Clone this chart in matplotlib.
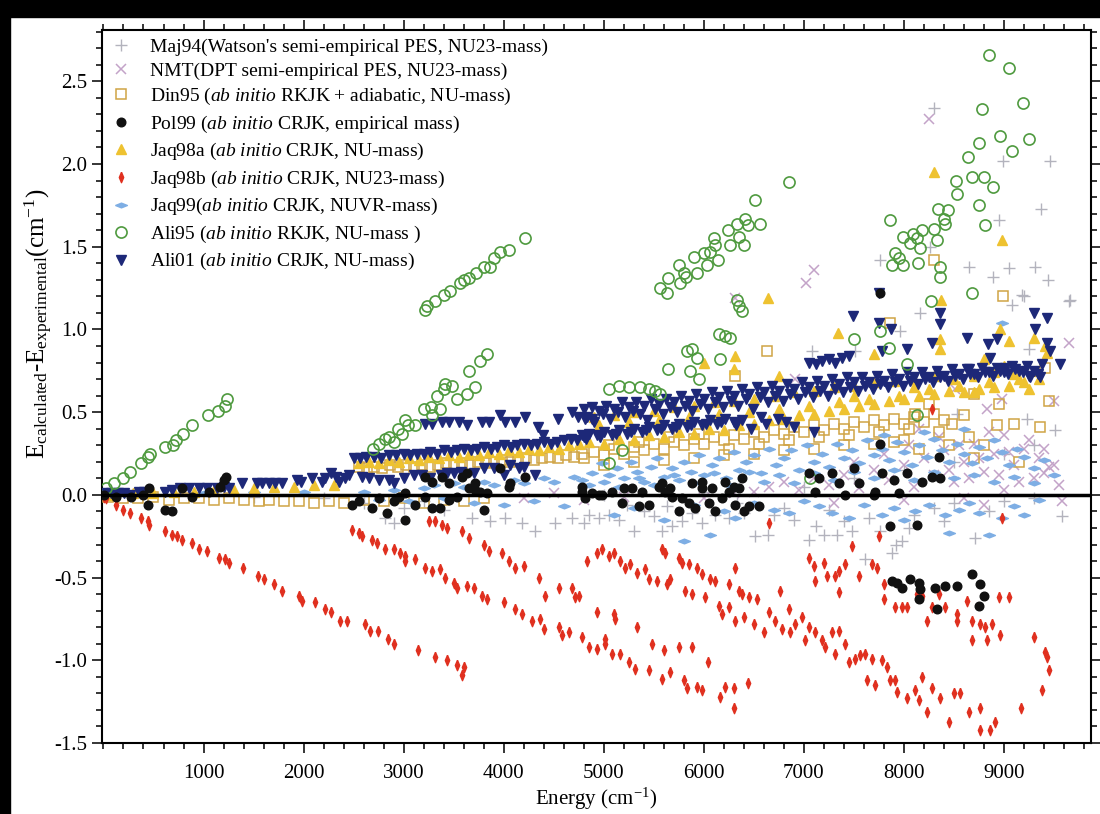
import numpy as np
import matplotlib
matplotlib.use("Agg")
import matplotlib.pyplot as plt
from matplotlib.ticker import MultipleLocator, FormatStrFormatter
from matplotlib.patches import Rectangle

plt.rcParams['font.family'] = ['Liberation Serif', 'DejaVu Serif']
plt.rcParams['mathtext.fontset'] = 'custom'
plt.rcParams['mathtext.rm'] = 'Liberation Serif'
plt.rcParams['mathtext.it'] = 'Liberation Serif:italic'

# ---- data: (energy cm-1, Ecalc - Eexp cm-1) ----
maj94 = np.array([
    (2600, -0.05), (2810, -0.14), (2900, -0.17), (3000, -0.08), (3200, -0.04), (3400, -0.09),
    (3680, -0.14), (3860, -0.16), (4010, -0.14), (4180, -0.17), (4310, -0.22), (4510, -0.17),
    (4680, -0.14), (4800, -0.17), (4850, -0.12), (4950, -0.14), (5050, -0.12), (5150, -0.15),
    (5300, -0.22), (5400, -0.10), (5500, -0.13), (5580, -0.22), (5680, -0.19), (5780, -0.16),
    (5880, -0.11), (5980, -0.17), (6110, -0.12), (6250, -0.14), (6400, -0.11), (6510, -0.25),
    (6640, -0.24), (6800, -0.08), (6900, -0.15), (7050, -0.27), (7120, -0.19), (7200, -0.24),
    (7330, -0.24), (7400, -0.16), (7480, -0.22), (7610, -0.39), (7650, -0.14), (7880, -0.35),
    (7920, -0.30), (7980, -0.28), (8050, -0.20), (8100, -0.12), (8300, -0.08), (8500, -0.05),
    (8710, -0.26), (9000, -0.04), (9300, -0.02), (9580, -0.13), (5000, 0.00), (6000, 0.02),
    (7000, 0.05), (7500, 0.10), (8000, 0.15), (8500, 0.20), (9000, 0.25), (9300, 0.30),
    (9230, 0.46), (8530, 0.49), (9510, 0.39), (9250, 0.88), (8300, 2.34), (8990, 2.02),
    (9460, 2.02), (9370, 1.73), (8950, 1.66), (8260, 1.50), (7760, 1.42), (8650, 1.38),
    (8890, 1.32), (9050, 1.37), (9310, 1.38), (9440, 1.30), (9200, 1.20), (9660, 1.18),
    (8160, 1.10), (7960, 0.99), (7080, 0.87), (7510, 0.87), (9080, 1.15), (9180, 1.21),
    (9650, 1.17), (1500, -0.01), (2200, -0.02), (5230, -0.06), (5630, -0.07), (6330, -0.05),
    (6700, -0.12), (7250, -0.09), (7760, -0.22), (8400, -0.16), (8850, -0.10),
])

nmt = np.array([
    (8250, 2.27), (7100, 1.36), (7020, 1.28), (6310, 1.19), (9650, 0.92), (9500, 0.57),
    (8510, 0.64), (8830, 0.52), (9580, -0.04), (8980, 0.58), (6910, 0.70), (9400, 0.13),
    (6500, 0.02), (6650, 0.05), (6800, 0.08), (6950, 0.03), (7100, 0.10), (7250, 0.06),
    (7400, 0.12), (7550, 0.04), (7700, 0.15), (7850, 0.09), (8000, 0.18), (8100, 0.05),
    (8200, 0.22), (8300, 0.12), (8400, 0.27), (8500, 0.08), (8600, 0.20), (8700, 0.31),
    (8800, 0.14), (8900, 0.25), (9000, 0.36), (9100, 0.18), (9200, 0.28), (9300, 0.10),
    (9350, 0.22), (9450, 0.17), (9550, 0.06), (4200, -0.02), (4500, 0.01), (4800, -0.03),
    (5200, -0.01), (5600, 0.02), (6000, -0.02), (6300, 0.01), (7300, -0.05), (8000, -0.03),
    (8800, -0.06), (8050, 0.30), (8150, 0.40), (8350, 0.35), (8450, 0.15), (8550, 0.30),
    (8650, 0.10), (8750, 0.22), (8850, 0.38), (8950, 0.12), (9050, 0.26), (9150, 0.08),
    (9250, 0.33), (9400, 0.28), (9500, 0.18), (8600, -0.02), (9000, 0.03), (7500, 0.20),
    (7800, 0.25),
])

din95 = np.array([
    (50, -0.01), (200, -0.02), (350, -0.02), (500, -0.01), (650, -0.03), (800, -0.02),
    (950, -0.02), (1100, -0.03), (1250, -0.02), (1400, -0.03), (1550, -0.04), (1650, -0.03),
    (1800, -0.04), (1950, -0.04), (2100, -0.05), (2250, -0.04), (2400, -0.05),
    (2550, 0.17), (2630, 0.16), (2700, 0.17), (2780, 0.16), (2860, 0.18), (2940, 0.17),
    (3020, 0.18), (3100, 0.17), (3180, 0.18), (3260, 0.17), (3340, 0.18), (3420, 0.19),
    (3500, 0.18), (3580, 0.19), (3660, 0.18), (3740, 0.20), (3820, 0.19), (3900, 0.20),
    (3980, 0.21), (4060, 0.20), (4140, 0.21), (4220, 0.22), (4300, 0.21), (4380, 0.22),
    (4460, 0.23), (4540, 0.22), (4620, 0.24), (4700, 0.23), (4780, 0.25),
    (2600, -0.03), (2800, -0.04), (3000, -0.02), (3200, -0.05), (3400, -0.03), (3600, -0.04),
    (3800, -0.02),
    (4800, 0.22), (4900, 0.26), (5000, 0.24), (5100, 0.28), (5200, 0.25), (5300, 0.29),
    (5400, 0.27), (5500, 0.31), (5600, 0.28), (5700, 0.32), (5800, 0.30), (5900, 0.34),
    (6000, 0.31), (6100, 0.35), (6200, 0.33), (6300, 0.36), (6400, 0.34), (6500, 0.38),
    (6600, 0.35), (6700, 0.39), (6800, 0.37), (6900, 0.41), (7000, 0.38), (7100, 0.42),
    (7200, 0.39), (7300, 0.43), (7400, 0.40), (7500, 0.44), (7600, 0.41), (7700, 0.45),
    (7800, 0.42), (7900, 0.46), (8000, 0.43), (8100, 0.47), (8200, 0.44), (8300, 0.49),
    (8400, 0.45), (5000, 0.18), (5300, 0.20), (5600, 0.21), (5900, 0.22), (6200, 0.24),
    (6500, 0.25), (6800, 0.27), (7100, 0.28), (7400, 0.30), (7700, 0.31), (8000, 0.33),
    (8300, 1.42), (8990, 1.20), (6630, 0.87), (6310, 0.72), (7860, 1.04), (9410, 0.77),
    (9450, 0.57), (9360, 0.41), (9150, 0.20), (8930, 0.42), (8950, 0.55), (8700, 0.61),
    (8480, 0.43), (8110, 0.49),
    (5050, 0.30), (5350, 0.32), (5650, 0.35), (5950, 0.37), (6250, 0.28), (6550, 0.31),
    (6850, 0.33), (7150, 0.35), (7450, 0.36), (7750, 0.38), (8050, 0.40), (8350, 0.38),
    (8650, 0.35), (8800, 0.30), (8600, 0.48), (8250, 0.55), (8450, 0.30), (8150, 0.28),
    (7900, 0.32), (8700, 0.22), (9100, 0.43),
])

pol99 = np.array([
    (10, 0.00), (130, -0.01), (280, -0.01), (400, 0.00), (460, 0.04), (450, -0.06),
    (610, -0.09), (680, -0.10), (880, -0.01), (780, 0.04), (1050, 0.02), (1160, 0.05),
    (1200, 0.09), (1220, 0.11),
    (2480, -0.06), (2550, -0.04), (2680, -0.08), (2750, -0.02), (2830, -0.11), (2900, -0.04),
    (2950, -0.01), (3010, 0.01), (3010, -0.15), (3110, -0.06), (3210, -0.01), (3280, -0.08),
    (3360, -0.08), (3450, -0.03), (3530, -0.01), (3650, 0.04), (3710, 0.03), (3800, -0.09),
    (3760, 0.02), (3830, 0.01), (4050, 0.05), (3210, 0.11), (3280, 0.08), (3380, 0.11),
    (3450, 0.07), (3580, 0.11), (3630, 0.13), (3710, 0.07), (3960, 0.16), (4060, 0.07),
    (4210, 0.11), (4810, -0.02),
    (4780, 0.02), (4880, 0.01), (4980, 0.00), (5080, 0.02), (5180, -0.05), (5280, 0.04),
    (5350, -0.07), (5450, -0.06), (5550, 0.05), (5610, 0.02), (5750, -0.10), (5850, -0.05),
    (5910, -0.08), (5980, 0.04), (6050, -0.05), (6110, -0.10), (6180, -0.02), (6250, 0.02),
    (6310, -0.06), (6400, -0.10), (6450, -0.07), (6550, -0.07), (6350, 0.04), (5780, -0.02),
    (5680, -0.01), (4780, 0.05), (4950, 0.00), (5200, 0.04), (5380, 0.02), (5580, 0.07),
    (5660, 0.04), (5880, 0.07), (5980, 0.08), (6080, 0.04), (6210, 0.08), (6300, 0.05),
    (6380, 0.10),
    (7050, 0.13), (7150, 0.10), (7280, 0.13), (7350, 0.07), (7500, 0.16), (7550, 0.07),
    (7760, 0.31), (7710, 0.02), (7780, 0.13), (7900, 0.09), (8030, 0.13), (8180, 0.08),
    (8280, 0.11), (8360, 0.10), (8350, 0.23), (7110, 0.02), (7410, 0.00), (7700, 0.00),
    (7950, 0.01), (7860, -0.19), (8130, -0.18), (7760, 1.22),
    (7880, -0.52), (7930, -0.53), (7980, -0.56), (8060, -0.51), (8150, -0.53), (8160, -0.57),
    (8150, -0.63), (8310, -0.56), (8410, -0.55), (8530, -0.55), (8680, -0.48), (8760, -0.54),
    (8800, -0.61), (8750, -0.67), (8330, -0.69),
])

jaq98a = np.array([
    (100, 0.00), (300, 0.01), (500, 0.01), (700, 0.02), (900, 0.02), (1100, 0.03),
    (1300, 0.03), (1500, 0.04), (1700, 0.05), (1900, 0.05), (2100, 0.06), (2300, 0.06),
    (2550, 0.19), (2650, 0.20), (2750, 0.19), (2850, 0.21), (2950, 0.20), (3050, 0.22),
    (3150, 0.21), (3250, 0.23), (3350, 0.22), (3450, 0.24), (3550, 0.23), (3650, 0.25),
    (3750, 0.24), (3850, 0.26), (3950, 0.25), (4050, 0.27), (4150, 0.26), (4250, 0.28),
    (4350, 0.27), (4450, 0.29), (4550, 0.28), (4650, 0.30), (4750, 0.31),
    (4850, 0.32), (5000, 0.31), (5150, 0.34), (5300, 0.33), (5450, 0.36), (5600, 0.35),
    (5750, 0.38), (5900, 0.37), (6050, 0.40), (6200, 0.39), (6350, 0.42), (6500, 0.43),
    (6650, 0.45), (6800, 0.46), (6950, 0.48), (7100, 0.49), (7250, 0.51), (7400, 0.52),
    (7550, 0.54), (7700, 0.55), (7850, 0.57), (8000, 0.58), (8150, 0.60), (8300, 0.61),
    (8450, 0.63), (8600, 0.62), (8750, 0.64), (8900, 0.65), (9050, 0.66), (9200, 0.68),
    (9350, 0.70),
    (4900, 0.47), (5100, 0.48), (5300, 0.50), (5500, 0.51), (5700, 0.53), (5900, 0.54),
    (6100, 0.56), (6300, 0.57), (6500, 0.58), (6700, 0.60), (6900, 0.62), (7100, 0.63),
    (7300, 0.65), (7500, 0.66), (7700, 0.68), (7900, 0.69), (8100, 0.70), (8300, 0.72),
    (8500, 0.70), (8700, 0.72), (8900, 0.74), (9100, 0.73), (9300, 0.75),
    (8300, 1.95), (8980, 1.54), (6640, 1.19), (7340, 0.98), (6310, 0.84), (6300, 0.76),
    (6750, 0.72), (8360, 0.94), (8360, 0.88), (8960, 1.00), (9050, 0.93), (9300, 0.95),
    (9410, 0.90), (9430, 0.86), (8370, 1.18), (6000, 0.80), (7700, 0.85), (8800, 0.82),
    (9000, 0.78),
    (4950, 0.42), (5250, 0.44), (5550, 0.45), (5850, 0.47), (6150, 0.49), (6450, 0.50),
    (6750, 0.52), (7050, 0.54), (7350, 0.56), (7650, 0.58), (7950, 0.60), (8250, 0.64),
    (8550, 0.66), (8850, 0.68), (9150, 0.70), (7500, 0.60), (8100, 0.65), (8700, 0.62),
    (9250, 0.64),
])

jaq98b = np.array([
    # lowest branch
    (30, -0.02), (130, -0.06), (200, -0.09), (270, -0.11), (380, -0.14), (450, -0.16),
    (460, -0.18), (610, -0.22), (680, -0.24), (730, -0.25), (780, -0.27), (880, -0.29),
    (950, -0.33), (1030, -0.34), (1150, -0.38), (1210, -0.39), (1250, -0.41), (1390, -0.44),
    (1540, -0.49), (1600, -0.51), (1700, -0.54), (1780, -0.58), (1950, -0.61), (1980, -0.64),
    (2110, -0.65), (2210, -0.69), (2270, -0.71), (2360, -0.76), (2430, -0.76), (2610, -0.78),
    (2660, -0.82), (2740, -0.82), (2840, -0.87), (2900, -0.90), (3140, -0.94), (3310, -0.98),
    (3430, -1.00), (3530, -1.03), (3600, -1.04), (3580, -1.09),
    # second branch
    (2480, -0.21), (2550, -0.23), (2580, -0.25), (2680, -0.27), (2730, -0.29), (2810, -0.33),
    (2900, -0.33), (2960, -0.35), (3010, -0.37), (3010, -0.40), (3110, -0.39), (3210, -0.44),
    (3280, -0.46), (3360, -0.45), (3410, -0.50), (3500, -0.53), (3530, -0.56), (3630, -0.55),
    (3700, -0.56), (3780, -0.61), (3830, -0.63), (4000, -0.65), (4110, -0.69), (4180, -0.72),
    (4280, -0.76), (4360, -0.75), (4400, -0.81), (4550, -0.80), (4580, -0.85), (4650, -0.83),
    (4780, -0.86), (4850, -0.92), (4930, -0.93), (5010, -0.90), (5080, -0.96), (5160, -0.96),
    (5250, -1.01), (5310, -1.05), (5450, -1.06), (5480, -0.90), (5580, -1.11), (5600, -0.94),
    (5660, -1.07), (5750, -0.92), (5800, -1.12), (5830, -1.17), (5880, -0.92), (5930, -1.16),
    (5980, -1.18), (6040, -1.01), (6160, -1.22), (6210, -1.16), (6300, -1.17), (6300, -1.29),
    (6440, -1.14),
    # third branch
    (3250, -0.16), (3310, -0.16), (3380, -0.18), (3430, -0.20), (3580, -0.22), (3650, -0.26),
    (3800, -0.30), (3850, -0.34), (3980, -0.35), (4050, -0.40), (4110, -0.44), (4200, -0.43),
    (4350, -0.50), (4410, -0.61), (4550, -0.56), (4680, -0.56), (4710, -0.62), (4750, -0.61),
    (4830, -0.40), (4930, -0.35), (4980, -0.33), (5050, -0.37), (5100, -0.35), (5160, -0.40),
    (5210, -0.44), (5260, -0.42), (5330, -0.47), (5410, -0.45), (5450, -0.51), (5530, -0.52),
    (5580, -0.33), (5610, -0.35), (5630, -0.54), (5660, -0.51), (5750, -0.38), (5780, -0.41),
    (5810, -0.58), (5850, -0.42), (5880, -0.60), (5930, -0.44), (5980, -0.48), (6010, -0.62),
    (6060, -0.51), (6110, -0.52), (6150, -0.67), (6250, -0.54), (6310, -0.44), (6350, -0.58),
    (6380, -0.60), (6450, -0.62), (6530, -0.63), (6180, -0.72), (6250, -0.68), (6310, -0.76),
    (6400, -0.74), (6500, -0.78), (6600, -0.83), (6650, -0.71), (6710, -0.76), (6760, -0.58),
    (6780, -0.81), (6850, -0.69), (6860, -0.83), (6910, -0.78), (6980, -0.74), (7010, -0.88),
    (7050, -0.80), (7110, -0.83), (7180, -0.88), (7210, -0.92), (7280, -0.83), (7310, -0.96),
    (7350, -0.82), (7410, -0.90), (7450, -1.01), (7510, -0.99), (7560, -0.97), (7610, -0.96),
    (7680, -0.99), (7630, -1.12), (7710, -1.15), (7780, -1.00), (7830, -1.04), (7860, -1.12),
    (7910, -1.12), (7930, -1.19), (8030, -1.23), (8110, -1.18), (8150, -1.24), (8180, -1.10),
    (8230, -1.31), (8280, -1.17), (8360, -1.23), (8450, -1.37), (8500, -1.20), (8560, -1.20),
    (8650, -1.31), (8760, -1.29), (8760, -1.42), (8860, -1.42), (8910, -1.37), (9170, -1.29),
    (9380, -1.18), (9450, -1.06), (9430, -0.98), (9410, -0.95), (9300, -0.86),
    (4930, -0.71), (5100, -0.72), (5110, -0.75), (5330, -0.80), (5010, -0.87),
    # upper-right group
    (7050, -0.38), (7100, -0.43), (7110, -0.52), (7200, -0.41), (7230, -0.49), (7310, -0.49),
    (7350, -0.46), (7410, -0.42), (7350, -0.59), (7480, -0.31), (7550, -0.49), (7680, -0.42),
    (7730, -0.44), (7750, -0.25), (7800, -0.54), (7800, -0.63), (7910, -0.68), (7980, -0.68),
    (8030, -0.68), (8130, -0.60), (8180, -0.61), (8230, -0.76), (8280, -0.68), (8350, -0.60),
    (8410, -0.68), (8530, -0.72), (8530, -0.76), (8630, -0.64), (8680, -0.76), (8760, -0.78),
    (8810, -0.80), (8880, -0.78), (8830, -0.88), (8950, -0.62), (9050, -0.62), (8680, -0.88),
    (8960, -0.85), (6650, -0.17), (8980, -0.14), (8280, 0.52), (10, -0.01),
])

jaq99 = np.array([
    (500, 0.00), (1000, 0.01), (1500, 0.02), (2000, 0.02),
    (2600, 0.02), (2750, -0.03), (2900, 0.03), (3050, -0.04), (3200, 0.04), (3300, 0.06),
    (3400, -0.02), (3500, 0.07), (3600, 0.05), (3700, -0.05), (3800, 0.08), (3900, 0.06),
    (4000, -0.06), (4100, 0.09), (4200, 0.07), (4300, -0.04), (4400, 0.10), (4500, 0.08),
    (4600, -0.07), (4700, 0.11), (4780, 0.09), (4880, 0.13), (4980, 0.19), (5050, 0.12),
    (5130, 0.16), (5200, 0.10), (5270, 0.20), (5330, 0.14), (5400, 0.08), (5470, 0.17),
    (5530, 0.22), (5600, 0.11), (5680, 0.16), (5750, 0.09), (5800, 0.20), (5870, 0.14),
    (5950, 0.24), (6000, 0.12), (6080, 0.18), (6150, 0.22), (6220, 0.10), (6300, 0.26),
    (6350, 0.15), (6420, 0.20), (6500, 0.24), (6570, 0.13), (6650, 0.28), (6720, 0.18),
    (6800, 0.22), (6870, 0.27), (6950, 0.15), (7030, 0.30), (7100, 0.20), (7180, 0.25),
    (7250, 0.17), (7330, 0.31), (7400, 0.22), (7480, 0.27), (7550, 0.19), (7630, 0.33),
    (7700, 0.24), (7780, 0.28), (7850, 0.21), (7930, 0.32), (8000, 0.26), (8080, 0.18),
    (8150, 0.30), (8230, 0.23), (8300, 0.34), (8380, 0.27), (8450, 0.20), (8530, 0.31),
    (8600, 0.25), (8680, 0.19), (8750, 0.29), (8830, 0.22), (8900, 0.33), (8980, 0.26),
    (9050, 0.18), (9130, 0.28), (9200, 0.23), (9300, 0.16), (9400, 0.21), (9500, 0.12),
    (5100, -0.12), (5300, -0.08), (5600, -0.15), (5800, -0.28), (5900, -0.06), (6060, -0.24),
    (6200, -0.10), (6310, -0.14), (6500, -0.05), (6700, -0.09), (6850, -0.11), (7000, -0.04),
    (7150, -0.07), (7280, -0.11), (7450, -0.14), (7600, -0.06), (7780, -0.12), (7900, -0.08),
    (8000, -0.15), (8110, -0.10), (8250, -0.06), (8410, -0.12), (8450, -0.23), (8550, -0.09),
    (8650, -0.05), (8750, -0.11), (8850, -0.24), (8980, -0.14), (9100, -0.07), (9200, -0.12),
    (9350, -0.03), (8980, 1.04),
    (4850, 0.06), (5000, 0.08), (5150, 0.05), (5350, 0.10), (5500, 0.06), (5700, 0.12),
    (5900, 0.07), (6100, 0.13), (6250, 0.06), (6450, 0.14), (6600, 0.08), (6750, 0.12),
    (6900, 0.07), (7100, 0.13), (7300, 0.09), (7500, 0.14), (7700, 0.10), (7900, 0.15),
    (8100, 0.09), (8300, 0.14), (8500, 0.10), (8700, 0.12), (8900, 0.08), (9100, 0.11),
    (9300, 0.07), (8200, 0.38), (8600, 0.40), (7800, 0.36),
])

ali95 = np.array([
    (30, 0.04), (110, 0.07), (200, 0.10), (270, 0.14), (380, 0.19), (450, 0.23), (470, 0.25),
    (610, 0.29), (690, 0.30), (720, 0.33), (790, 0.37), (880, 0.42), (1040, 0.48), (1140, 0.51),
    (1210, 0.54), (1230, 0.58),
    (2690, 0.28), (2750, 0.31), (2810, 0.34), (2850, 0.35), (2900, 0.32), (2940, 0.40),
    (2980, 0.37), (3010, 0.45), (3040, 0.42), (3110, 0.42), (3200, 0.52), (3270, 0.53),
    (3280, 0.48), (3360, 0.52), (3330, 0.60), (3400, 0.64), (3410, 0.67), (3480, 0.66),
    (3530, 0.58), (3630, 0.61), (3710, 0.65), (3650, 0.75), (3760, 0.81), (3830, 0.85),
    (3210, 1.12), (3230, 1.14), (3310, 1.17), (3400, 1.21), (3460, 1.23), (3560, 1.28),
    (3600, 1.30), (3650, 1.31), (3720, 1.34), (3800, 1.38), (3860, 1.38), (3900, 1.43),
    (3960, 1.47), (4050, 1.48), (4210, 1.55),
    (5050, 0.64), (5150, 0.66), (5250, 0.65), (5360, 0.65), (5450, 0.64), (5510, 0.63),
    (5560, 0.61), (5180, 0.27), (5050, 0.19),
    (5640, 0.76), (5860, 0.75), (5950, 0.70), (5830, 0.87), (5880, 0.88), (5930, 0.83),
    (6150, 0.97), (6210, 0.96), (6260, 0.95), (6160, 0.82), (6330, 1.18), (6350, 1.14),
    (6380, 1.11),
    (5560, 1.25), (5630, 1.22), (5640, 1.31), (5750, 1.39), (5760, 1.28), (5800, 1.34),
    (5820, 1.32), (5900, 1.44), (5930, 1.34), (6000, 1.46), (6030, 1.39), (6060, 1.47),
    (6100, 1.55), (6110, 1.51), (6140, 1.42), (6240, 1.60), (6260, 1.51), (6330, 1.64),
    (6350, 1.56), (6400, 1.51), (6410, 1.67), (6440, 1.63), (6510, 1.78), (6560, 1.64),
    (6850, 1.89),
    (7500, 0.94), (7760, 0.99), (7850, 0.89), (8030, 0.79), (8130, 0.48), (7060, 0.10),
    (7860, 1.66), (7910, 1.46), (7880, 1.39), (7950, 1.43), (7990, 1.39), (7990, 1.56),
    (8060, 1.52), (8090, 1.58), (8130, 1.55), (8160, 1.49), (8180, 1.60), (8140, 1.40),
    (8300, 1.61), (8330, 1.54), (8340, 1.73), (8400, 1.67), (8410, 1.64), (8440, 1.72),
    (8360, 1.38), (8360, 1.32), (8520, 1.90), (8530, 1.82), (8640, 2.04), (8680, 1.92),
    (8750, 1.75), (8750, 2.13), (8780, 2.33), (8800, 1.92), (8810, 1.63), (8850, 2.66),
    (8890, 1.86), (8960, 2.17), (9050, 2.58), (9080, 2.08), (9190, 2.37), (9250, 2.15),
    (8680, 1.22), (8270, 1.17),
])

ali01 = np.array([
    (10, 0.01), (80, 0.01), (150, 0.01), (210, 0.01), (270, 0.00), (360, 0.02), (410, 0.02),
    (610, 0.02), (680, 0.03), (760, 0.04), (850, 0.04), (950, 0.04), (1030, 0.04), (1130, 0.04),
    (1200, 0.05), (1250, 0.04), (1380, 0.07), (1530, 0.07), (1580, 0.07), (1650, 0.07),
    (1710, 0.07), (1780, 0.07), (1930, 0.09), (1970, 0.08), (2080, 0.10), (2180, 0.08),
    (2210, 0.10), (2270, 0.13), (2350, 0.08), (2410, 0.10),
    (2500, 0.22), (2560, 0.22), (2620, 0.23), (2700, 0.23), (2770, 0.22), (2850, 0.24),
    (2920, 0.24), (3000, 0.25), (3060, 0.24), (3130, 0.25), (3200, 0.25), (3260, 0.26),
    (3330, 0.25), (3400, 0.27), (3470, 0.26), (3530, 0.27), (3600, 0.28), (3670, 0.27),
    (3730, 0.28), (3800, 0.29), (3870, 0.28), (3930, 0.29), (4000, 0.30), (4070, 0.29),
    (4130, 0.30), (4200, 0.31), (4270, 0.30), (4330, 0.31), (4400, 0.32), (4470, 0.31),
    (4530, 0.32), (4600, 0.33), (4670, 0.34), (4730, 0.33), (4800, 0.35),
    (2580, 0.11), (2650, 0.10), (2750, 0.09), (2850, 0.09), (2900, 0.07), (3180, 0.12),
    (3260, 0.10), (3370, 0.12), (3430, 0.13), (3570, 0.14), (3700, 0.13), (3900, 0.16),
    (4060, 0.18), (4200, 0.17), (4310, 0.12), (2320, 0.11), (2450, 0.12), (3000, 0.10),
    (3100, 0.12), (3500, 0.13), (3800, 0.16), (4000, 0.12), (4150, 0.16),
    (3210, 0.43), (3280, 0.43), (3380, 0.44), (3450, 0.44), (3550, 0.44), (3630, 0.42),
    (3780, 0.44), (3850, 0.44), (3960, 0.48), (4010, 0.44), (4110, 0.44), (4210, 0.47),
    (4340, 0.41), (4390, 0.36), (4540, 0.46), (4680, 0.50), (4740, 0.47), (4810, 0.46),
    (4880, 0.46),
    (4800, 0.52), (4880, 0.53), (4950, 0.51), (5020, 0.54), (5100, 0.52), (5180, 0.56),
    (5250, 0.53), (5320, 0.56), (5400, 0.54), (5470, 0.58), (5550, 0.55), (5620, 0.58),
    (5700, 0.56), (5770, 0.60), (5850, 0.57), (5920, 0.61), (6000, 0.58), (6080, 0.62),
    (6150, 0.59), (6230, 0.63), (6300, 0.60), (6380, 0.64), (6450, 0.61), (6530, 0.65),
    (6600, 0.62), (6680, 0.66), (6750, 0.63), (6830, 0.67), (6900, 0.64), (6980, 0.68),
    (7050, 0.65), (7130, 0.69), (7200, 0.66), (7280, 0.70), (7350, 0.67), (7430, 0.71),
    (7500, 0.68), (7580, 0.71), (7650, 0.68), (7730, 0.72), (7800, 0.69), (7880, 0.73),
    (7950, 0.70), (8030, 0.74), (8100, 0.71), (8180, 0.74), (8250, 0.71), (8330, 0.75),
    (8400, 0.72), (8480, 0.76), (8550, 0.73), (8630, 0.76), (8700, 0.73), (8780, 0.77),
    (8850, 0.74), (8930, 0.77), (9000, 0.74), (9080, 0.78), (9150, 0.75), (9230, 0.78),
    (9300, 0.75), (9380, 0.79),
    (4830, 0.47), (4900, 0.44), (4990, 0.49), (5060, 0.46), (5140, 0.50), (5210, 0.47),
    (5290, 0.51), (5360, 0.49), (5430, 0.45), (5510, 0.52), (5590, 0.49), (5660, 0.53),
    (5730, 0.50), (5810, 0.54), (5880, 0.51), (5960, 0.55), (6040, 0.52), (6110, 0.56),
    (6190, 0.53), (6270, 0.57), (6340, 0.54), (6420, 0.58), (6490, 0.52), (6560, 0.59),
    (6640, 0.56), (6710, 0.60), (6790, 0.57), (6860, 0.61), (6940, 0.58), (7010, 0.62),
    (7090, 0.59), (7160, 0.63), (7240, 0.60), (7310, 0.64), (7390, 0.62), (7460, 0.65),
    (7540, 0.63), (7610, 0.66), (7690, 0.64), (7760, 0.67), (7840, 0.65), (7910, 0.68),
    (7990, 0.66), (8060, 0.69), (8140, 0.67), (8210, 0.70), (8290, 0.68), (8360, 0.71),
    (8440, 0.69), (8510, 0.72), (8590, 0.70), (8660, 0.73), (8740, 0.71), (8810, 0.74),
    (8890, 0.72), (8960, 0.75), (9040, 0.73), (9110, 0.76), (9190, 0.74), (9260, 0.71),
    (9340, 0.73),
    (4780, 0.36), (4850, 0.37), (4930, 0.36), (5000, 0.38), (5080, 0.36), (5150, 0.39),
    (5230, 0.37), (5300, 0.40), (5380, 0.38), (5450, 0.41), (5530, 0.39), (5600, 0.42),
    (5680, 0.40), (5750, 0.43), (5830, 0.41), (5900, 0.44), (5980, 0.42), (6060, 0.45),
    (6130, 0.43), (6210, 0.46), (6300, 0.44), (6380, 0.45), (6570, 0.47), (6740, 0.46),
    (6820, 0.44), (7100, 0.38), (4820, 0.34), (4960, 0.35), (5120, 0.37), (5270, 0.38),
    (5420, 0.39), (5570, 0.40), (5720, 0.41), (5870, 0.42), (6020, 0.43), (6170, 0.44),
    (6320, 0.42), (6470, 0.40), (6620, 0.43), (6900, 0.41),
    (7050, 0.80), (7120, 0.79), (7180, 0.81), (7250, 0.82), (7310, 0.80), (7380, 0.83),
    (7450, 0.84),
    (7490, 1.08), (7750, 1.22), (7750, 1.04), (7870, 1.00), (7780, 0.87), (8030, 0.88),
    (8280, 0.92), (8360, 1.10), (8360, 1.03), (8630, 0.95), (8840, 0.91), (8930, 0.94),
    (9300, 1.10), (9430, 1.07), (9310, 1.00), (9430, 0.92), (9460, 0.87), (9560, 0.79),
    (9360, 0.71), (9250, 0.72), (8650, 0.76), (9010, 0.77), (8860, 0.83),
])

labels = [
    "Maj94(Watson's semi-empirical PES, NU23-mass)",
    "NMT(DPT semi-empirical PES, NU23-mass)",
    r"Din95 ($\mathit{ab\ initio}$ RKJK + adiabatic, NU-mass)",
    r"Pol99 ($\mathit{ab\ initio}$ CRJK, empirical mass)",
    r"Jaq98a ($\mathit{ab\ initio}$ CRJK, NU-mass)",
    r"Jaq98b ($\mathit{ab\ initio}$ CRJK, NU23-mass)",
    r"Jaq99($\mathit{ab\ initio}$ CRJK, NUVR-mass)",
    r"Ali95 ($\mathit{ab\ initio}$ RKJK, NU-mass )",
    r"Ali01 ($\mathit{ab\ initio}$ CRJK, NU-mass)",
]

thin_diamond = [(0, 1), (0.42, 0), (0, -1), (-0.42, 0), (0, 1)]
flat_diamond = [(-1, 0), (0, 0.4), (1, 0), (0, -0.4), (-1, 0)]

fig = plt.figure(figsize=(11, 8.14), dpi=100)
fig.patches.append(Rectangle((0, 0.979), 1, 0.021, transform=fig.transFigure,
                             color='black', zorder=0))
fig.patches.append(Rectangle((0, 0), 0.009, 1, transform=fig.transFigure,
                             color='black', zorder=0))
ax = fig.add_axes([0.0927, 0.0872, 0.8991, 0.8759])

h = []
h += ax.plot(maj94[:, 0], maj94[:, 1], ls='none', marker='+', ms=8.5, mew=1.0,
             color='#b3b3bd', zorder=2)
h += ax.plot(nmt[:, 0], nmt[:, 1], ls='none', marker='x', ms=7.5, mew=1.1,
             color='#c3a3c8', zorder=2)
h += ax.plot(din95[:, 0], din95[:, 1], ls='none', marker='s', ms=7, mew=1.1,
             mfc='none', mec='#d0a445', zorder=3)
h += ax.plot(pol99[:, 0], pol99[:, 1], ls='none', marker='o', ms=6.2,
             color='#111111', zorder=7)
h += ax.plot(jaq98a[:, 0], jaq98a[:, 1], ls='none', marker='^', ms=6.5,
             color='#eec230', zorder=4)
h += ax.plot(jaq98b[:, 0], jaq98b[:, 1], ls='none', marker=thin_diamond, ms=7.5,
             color='#e0301f', zorder=6)
h += ax.plot(jaq99[:, 0], jaq99[:, 1], ls='none', marker=flat_diamond, ms=8.5,
             color='#7eaee4', zorder=3)
h += ax.plot(ali95[:, 0], ali95[:, 1], ls='none', marker='o', ms=8, mew=1.2,
             mfc='none', mec='#4f9a3f', zorder=6)
h += ax.plot(ali01[:, 0], ali01[:, 1], ls='none', marker='v', ms=7,
             color='#1d2878', zorder=5)

ax.axhline(0, color='black', lw=2.5, zorder=8)

ax.set_xlim(-15, 9870)
ax.set_ylim(-1.5, 2.81)
ax.set_xticks(range(1000, 10000, 1000))
ax.xaxis.set_minor_locator(MultipleLocator(200))
ax.yaxis.set_major_locator(MultipleLocator(0.5))
ax.yaxis.set_minor_locator(MultipleLocator(0.1))
ax.yaxis.set_major_formatter(FormatStrFormatter('%.1f'))
ax.tick_params(which='both', direction='out', top=True, right=True, width=1.1)
ax.tick_params(which='major', length=7, labelsize=15)
ax.tick_params(which='minor', length=4)
ax.tick_params(axis='x', pad=8)
for s in ax.spines.values():
    s.set_linewidth(1.5)

ax.set_xlabel('Energy (cm$^{-1}$)', fontsize=15, labelpad=2)
ax.set_ylabel(r'E$_{\mathrm{calculated}}$-E$_{\mathrm{experimental}}$(cm$^{-1}$)', fontsize=18)
ax.yaxis.set_label_coords(-0.047, 0.588)

ax.legend(h, labels, loc='upper left', frameon=False, fontsize=14,
          labelspacing=0.33, handletextpad=0.9, handlelength=1.2,
          borderaxespad=0.3, bbox_to_anchor=(-0.006, 1.008))

fig.savefig('out.png', dpi=100)
